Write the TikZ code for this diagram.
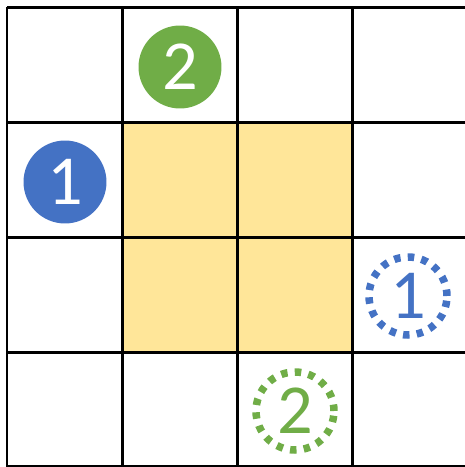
\documentclass[tikz,border=0pt]{standalone}
\usepackage{fontspec}
\setmainfont{Carlito}
\usepackage{xcolor}
\usepackage{tikz}
\usetikzlibrary{positioning}
\definecolor{tokblue}{HTML}{4472C4}
\definecolor{tokgreen}{HTML}{70AD47}
\definecolor{cellyellow}{HTML}{FFE699}

\begin{document}
\begin{tikzpicture}[
    x=0.02cm, y=-0.02cm,
    font=\fontsize{40}{40}\selectfont,
    gridline/.style={
        draw=black,
        line width=0.06cm
    },
    token/.style={
        circle,
        minimum size=1.66cm,
        inner sep=0pt,
        text=white
    },
    ghost/.style={
        circle,
        draw,
        minimum size=1.56cm,
        inner sep=0pt,
        line width=0.15cm,
        dash pattern=on 0.13cm off 0.145cm
    }
]
\useasboundingbox (0,0) rectangle (465,467);

% highlighted cells
\fill[cellyellow] (122,122) rectangle (352,352);

% grid
\foreach \x in {7,122,237,352}
    \draw[gridline] (\x,7) -- (\x,467);
\foreach \y in {7,122,237,352,466}
    \draw[gridline] (7,\y) -- (467,\y);

% start positions
\node[token, fill=tokblue] (startone) at (65,182) {1};
\node[token, fill=tokgreen] (starttwo) at (180,67) {2};

% target positions
\node[ghost, draw=tokblue, text=tokblue] (goalone) at (408,296) {1};
\node[ghost, draw=tokgreen, text=tokgreen] (goaltwo) at (295,411) {2};

\end{tikzpicture}
\end{document}
